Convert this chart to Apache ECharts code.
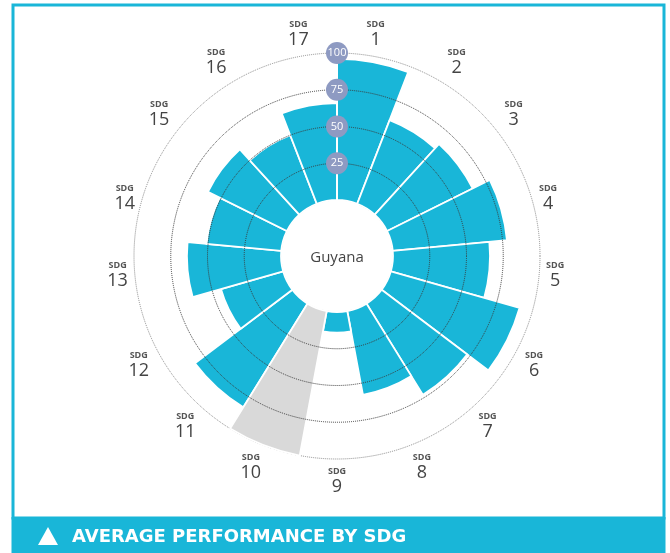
<!DOCTYPE html>
<html>
<head>
<meta charset="utf-8">
<script src="https://cdn.jsdelivr.net/npm/echarts@6/dist/echarts.min.js"></script>
<style>
	html, body { margin: 0; padding: 0; background: #fff; }
	#main { width: 670px; height: 553px; }
</style>
</head>
<body>
<div id="main"></div>
<script>
// data
const goals = ['1', '2', '3', '4', '5', '6', '7', '8', '9', '10', '11', '12', '13', '14', '15', '16', '17'];
const scores = [96, 61, 65, 78, 66, 91, 73, 58, 14, '-', 83, 44, 64, 51, 60, 50, 66];
// SDG 10 has no score: drawn grey to the full ring
const noData = ['-', '-', '-', '-', '-', '-', '-', '-', '-', 100, '-', '-', '-', '-', '-', '-', '-'];
const ringTicks = [0, 25, 50, 75, 100];
const country = 'Guyana';
const caption = 'AVERAGE PERFORMANCE BY SDG';

const CYAN = '#19b6d8';

const myChart = echarts.init(document.getElementById('main'), null, { renderer: 'canvas' });

const option = {
	animation: false,
	backgroundColor: '#fff',
	polar: {
		center: [337, 256],
		radius: [56, 203]
	},
	angleAxis: {
		type: 'category',
		data: goals,
		startAngle: 90,
		clockwise: true,
		boundaryGap: true,
		axisLine: { show: true, lineStyle: { color: '#8a8a8a', type: 'dotted', width: 1 } },
		axisTick: { show: false },
		splitLine: { show: false },
		axisLabel: {
			margin: 7,
			formatter: v => '{s|SDG}\n{n|' + v + '}',
			rich: {
				s: { fontSize: 9, fontWeight: 'bold', color: '#555', lineHeight: 11, align: 'center', fontFamily: 'Open Sans' },
				n: { fontSize: 18, color: '#444', lineHeight: 20, align: 'center', fontFamily: 'Open Sans' }
			}
		}
	},
	radiusAxis: {
		type: 'value',
		min: ringTicks[0],
		max: ringTicks[ringTicks.length - 1],
		interval: 25,
		z: 5,
		axisLine: { show: true, lineStyle: { color: '#fff', width: 2 } },
		axisTick: { show: false },
		splitLine: {
			show: true,
			lineStyle: { color: ['rgba(0,0,0,0)', '#3a3a3a', '#3a3a3a', '#3a3a3a', 'rgba(0,0,0,0)'], type: 'dotted', width: 1 }
		},
		axisLabel: {
			showMinLabel: false,
			margin: 0,
			color: '#fff',
			fontSize: 11,
			fontFamily: 'Open Sans',
			backgroundColor: '#8e9ac2',
			borderRadius: 11,
			width: 22,
			height: 22,
			lineHeight: 22,
			align: 'center',
			verticalAlign: 'middle'
		}
	},
	series: [
		{
			name: 'score',
			type: 'bar',
			coordinateSystem: 'polar',
			data: scores,
			barCategoryGap: '0%',
			barGap: '-100%',
			itemStyle: { color: CYAN, borderColor: '#fff', borderWidth: 1.8 }
		},
		{
			name: 'no data',
			type: 'bar',
			coordinateSystem: 'polar',
			data: noData,
			barCategoryGap: '0%',
			barGap: '-100%',
			itemStyle: { color: '#d9d9d9', borderColor: '#fff', borderWidth: 1.8 }
		}
	],
	graphic: [
		{
			type: 'rect', z: -1,
			shape: { x: 13, y: 5, width: 651, height: 513 },
			style: { fill: '#fff', stroke: CYAN, lineWidth: 3 }
		},
		{
			type: 'rect',
			shape: { x: 11.5, y: 517, width: 654, height: 36 },
			style: { fill: CYAN }
		},
		{
			type: 'polygon',
			shape: { points: [[48, 527], [58, 545], [38, 545]] },
			style: { fill: '#fff' }
		},
		{
			type: 'text', x: 72, y: 537,
			style: { text: caption, fill: '#fff', font: 'bold 18px "DejaVu Sans"', textVerticalAlign: 'middle' }
		},
		{
			type: 'text', x: 337, y: 258, z: 10,
			style: { text: country, fill: '#444', font: '15px "Open Sans"', textAlign: 'center', textVerticalAlign: 'middle' }
		}
	]
};

myChart.setOption(option);
</script>
</body>
</html>
